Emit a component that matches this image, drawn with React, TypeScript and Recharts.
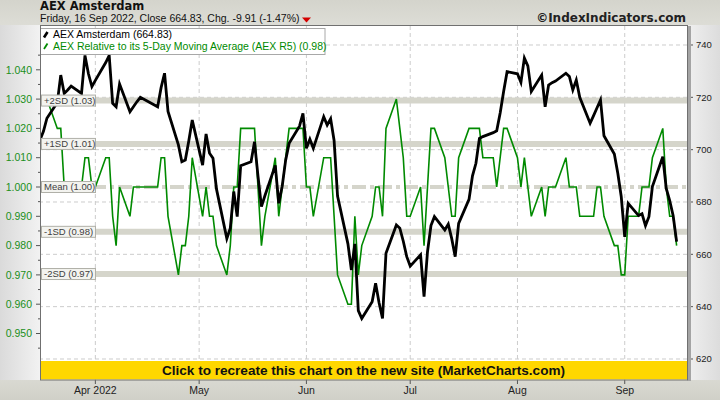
import React from 'react';
import { ComposedChart, Line, XAxis, YAxis, ReferenceLine } from 'recharts';

// ---- data ----
const dates: string[] = [
  '2022-03-16','2022-03-17','2022-03-18','2022-03-21','2022-03-22','2022-03-23','2022-03-24','2022-03-25','2022-03-28','2022-03-29','2022-03-30','2022-03-31',
  '2022-04-01','2022-04-04','2022-04-05','2022-04-06','2022-04-07','2022-04-08','2022-04-11','2022-04-12','2022-04-13','2022-04-14','2022-04-19','2022-04-20','2022-04-21','2022-04-22','2022-04-25','2022-04-26','2022-04-27','2022-04-28','2022-04-29',
  '2022-05-02','2022-05-03','2022-05-04','2022-05-05','2022-05-06','2022-05-09','2022-05-10','2022-05-11','2022-05-12','2022-05-13','2022-05-16','2022-05-17','2022-05-18','2022-05-19','2022-05-20','2022-05-23','2022-05-24','2022-05-25','2022-05-26','2022-05-27','2022-05-30','2022-05-31',
  '2022-06-01','2022-06-02','2022-06-03','2022-06-06','2022-06-07','2022-06-08','2022-06-09','2022-06-10','2022-06-13','2022-06-14','2022-06-15','2022-06-16','2022-06-17','2022-06-20','2022-06-21','2022-06-22','2022-06-23','2022-06-24','2022-06-27','2022-06-28','2022-06-29','2022-06-30',
  '2022-07-01','2022-07-04','2022-07-05','2022-07-06','2022-07-07','2022-07-08','2022-07-11','2022-07-12','2022-07-13','2022-07-14','2022-07-15','2022-07-18','2022-07-19','2022-07-20','2022-07-21','2022-07-22','2022-07-25','2022-07-26','2022-07-27','2022-07-28','2022-07-29',
  '2022-08-01','2022-08-02','2022-08-03','2022-08-04','2022-08-05','2022-08-08','2022-08-09','2022-08-10','2022-08-11','2022-08-12','2022-08-15','2022-08-16','2022-08-17','2022-08-18','2022-08-19','2022-08-22','2022-08-23','2022-08-24','2022-08-25','2022-08-26','2022-08-29','2022-08-30','2022-08-31',
  '2022-09-01','2022-09-02','2022-09-05','2022-09-06','2022-09-07','2022-09-08','2022-09-09','2022-09-12','2022-09-13','2022-09-14','2022-09-15','2022-09-16',
];

const aexClose: number[] = [
  703.7, 707.0, 712.0, 718.0, 728.5, 721.5, 722.8, 724.3, 721.5, 736.0, 729.0, 724.1,
  726.5, 733.3, 736.0, 717.7, 716.4, 725.1, 714.5, 716.4, 718.3, 720.0, 716.4, 723.7, 729.2, 714.6, 701.8, 695.4, 696.0, 703.3, 711.3,
  694.1, 706.0, 698.6, 696.7, 685.0, 666.0, 670.0, 684.0, 674.4, 693.9, 695.4, 703.0, 690.0, 678.2, 682.4, 694.0, 679.5, 686.0, 696.0, 702.4, 709.0, 713.9,
  700.5, 704.0, 700.5, 712.6, 709.4, 711.8, 703.5, 682.3, 664.0, 654.0, 664.0, 638.5, 635.5, 641.9, 648.9, 641.5, 635.5, 660.4, 671.2, 670.0, 665.0, 659.1,
  655.5, 659.8, 643.8, 661.0, 671.0, 674.4, 669.3, 671.5, 666.0, 659.1, 671.8, 681.0, 690.0, 694.8, 704.3, 705.0, 706.5, 707.2, 714.0, 722.2, 729.8,
  729.0, 725.7, 735.0, 732.0, 722.2, 728.5, 716.4, 724.7, 725.6, 726.2, 729.2, 728.0, 722.8, 726.6, 720.0, 710.1, 713.0, 716.0, 719.0, 705.3, 698.3, 691.0, 682.0,
  666.7, 679.5, 674.8, 675.5, 671.0, 674.4, 685.9, 697.3, 685.2, 680.5, 674.74, 664.83,
];

const aexR5: number[] = [
  1.03, 1.03, 1.03, 1.02, 1.02, 1.00, 1.00, 1.00, 1.00, 1.01, 1.01, 1.00,
  1.00, 1.01, 1.01, 0.99, 0.98, 1.00, 0.99, 1.00, 1.00, 1.00, 1.00, 1.01, 1.01, 0.99, 0.97, 0.98, 0.98, 0.99, 1.01,
  0.99, 1.00, 0.99, 0.99, 0.98, 0.97, 0.98, 1.00, 1.00, 1.02, 1.02, 1.02, 1.00, 0.98, 0.99, 1.01, 0.99, 1.00, 1.01, 1.02, 1.02, 1.02,
  1.00, 1.00, 0.99, 1.01, 1.01, 1.01, 0.99, 0.97, 0.96, 0.96, 0.99, 0.97, 0.98, 0.99, 1.00, 1.00, 0.99, 1.02, 1.03, 1.02, 1.01, 0.99,
  0.99, 1.00, 0.98, 1.00, 1.02, 1.02, 1.01, 1.00, 0.99, 0.99, 1.01, 1.02, 1.02, 1.02, 1.02, 1.01, 1.01, 1.00, 1.01, 1.02, 1.02,
  1.01, 1.00, 1.01, 1.00, 0.99, 1.00, 0.99, 1.00, 1.00, 1.00, 1.01, 1.00, 1.00, 1.00, 0.99, 0.99, 0.99, 1.00, 1.00, 0.99, 0.98, 0.98, 0.97,
  0.97, 0.99, 0.99, 1.00, 1.00, 1.00, 1.01, 1.02, 1.00, 0.99, 0.99, 0.98,
];

const monthTickDates: string[] = ['2022-04-01', '2022-05-01', '2022-06-01', '2022-07-01', '2022-08-01', '2022-09-01'];
const monthTickLabels: string[] = ['Apr 2022', 'May', 'Jun', 'Jul', 'Aug', 'Sep'];

const leftLabelTicks: number[] = [0.95, 0.96, 0.97, 0.98, 0.99, 1.0, 1.01, 1.02, 1.03, 1.04];
const leftMinorTicks: number[] = [0.945, 0.955, 0.965, 0.975, 0.985, 0.995, 1.005, 1.015, 1.025, 1.035, 1.045];
const rightLabelTicks: number[] = [620, 640, 660, 680, 700, 720, 740];
const rightMinorTicks: number[] = [630, 650, 670, 690, 710, 730];

const sdValues: number[] = [1.0295, 1.0147, 1.0, 0.9847, 0.9703];
const sdLabels: string[] = ['+2SD (1.03)', '+1SD (1.01)', 'Mean (1.00)', '-1SD (0.98)', '-2SD (0.97)'];

const titleText = 'AEX Amsterdam';
const subtitleText = 'Friday, 16 Sep 2022, Close 664.83, Chg. -9.91 (-1.47%)';
const copyrightText = '\u00A9IndexIndicators.com';
const legendAex = 'AEX Amsterdam (664.83)';
const legendR5 = 'AEX Relative to its 5-Day Moving Average (AEX R5) (0.98)';
const bannerText = 'Click to recreate this chart on the new site (MarketCharts.com)';

// ---- derived ----
const BASE = Date.UTC(2022, 3, 1);
const dayNum = (s: string) => {
  const [y, m, d] = s.split('-').map(Number);
  return (Date.UTC(y, m - 1, d) - BASE) / 86400000;
};
const data = dates.map((s, i) => ({ t: dayNum(s), aex: aexClose[i], r5: aexR5[i] }));
const monthTicks = monthTickDates.map(dayNum);
const leftTicks = [...leftLabelTicks, ...leftMinorTicks].sort((a, b) => a - b);
const rightTicks = [...rightLabelTicks, ...rightMinorTicks].sort((a, b) => a - b);

const SANS = "'Liberation Sans', Arial, sans-serif";
const VERD = "'DejaVu Sans', Verdana, sans-serif";
const GREEN = '#008a00';
const BAND = '#d5d5cb';

const isMajor = (v: number, list: number[]) => list.some((m) => Math.abs(m - v) < 1e-6);

const LeftTick = (props: any) => {
  const { x, y, payload } = props;
  const v = payload.value as number;
  const major = isMajor(v, leftLabelTicks);
  return (
    <g>
      <line x1={x - (major ? 4 : 2)} x2={x} y1={y} y2={y} stroke="#555" strokeWidth={1} />
      {major && (
        <text x={x - 8} y={y} dy="0.36em" textAnchor="end" fill="#1a8f1a" fontSize={10.5} fontFamily={SANS}>
          {v.toFixed(3)}
        </text>
      )}
    </g>
  );
};

const RightTick = (props: any) => {
  const { x, y, payload } = props;
  const v = payload.value as number;
  const major = isMajor(v, rightLabelTicks);
  return (
    <g>
      <line x1={x} x2={x + (major ? 6 : 3)} y1={y} y2={y} stroke="#555" strokeWidth={1} />
      {major && (
        <text x={x + 9} y={y} dy="0.36em" textAnchor="start" fill="#222" fontSize={9.5} fontFamily={SANS}>
          {String(v)}
        </text>
      )}
    </g>
  );
};

const XTick = (props: any) => {
  const { x, y, payload } = props;
  const idx = monthTicks.indexOf(payload.value);
  return (
    <g>
      <line x1={x} x2={x} y1={y} y2={y + 4} stroke="#555" strokeWidth={1} />
      <text x={x} y={y + 13.5} textAnchor="middle" fill="#222" fontSize={10.5} fontFamily={SANS}>
        {idx >= 0 ? monthTickLabels[idx] : ''}
      </text>
    </g>
  );
};

const makeBandLabel = (text: string) => (props: any) => {
  const vb = props.viewBox || {};
  const x = vb.x ?? 40;
  const y = vb.y ?? 0;
  return (
    <g>
      <rect x={x + 1.5} y={y - 5.5} width={54} height={11} fill="#f3f3ef" stroke="#b0b0a8" strokeWidth={1} />
      <text x={x + 4} y={y + 3.4} fontSize={9.5} fill="#404040" fontFamily={SANS}>
        {text}
      </text>
    </g>
  );
};

export default function App() {
  return (
    <div style={{ position: 'absolute', left: 0, top: 0, width: 720, height: 400, overflow: 'hidden' }}>
      <svg width={720} height={400} style={{ position: 'absolute', left: 0, top: 0 }}>
        <defs>
          <linearGradient id="frameGrad" x1="0" y1="0" x2="0" y2="1">
            <stop offset="0" stopColor="#d4d4cc" />
            <stop offset="0.1" stopColor="#e2e2dc" />
            <stop offset="0.9" stopColor="#e2e2dc" />
            <stop offset="1" stopColor="#d0d0c8" />
          </linearGradient>
          <linearGradient id="leftGrad" x1="0" y1="0" x2="1" y2="0">
            <stop offset="0" stopColor="#dadada" />
            <stop offset="1" stopColor="#f2f2f2" />
          </linearGradient>
          <linearGradient id="rightGrad" x1="0" y1="0" x2="1" y2="0">
            <stop offset="0" stopColor="#f0f0f0" />
            <stop offset="1" stopColor="#dcdcdc" />
          </linearGradient>
        </defs>
        <rect x={0} y={0} width={720} height={400} fill="url(#frameGrad)" />
        <rect x={0} y={25} width={40} height={355} fill="url(#leftGrad)" />
        <rect x={687} y={25} width={33} height={355} fill="url(#rightGrad)" />
        <rect x={40} y={25} width={647} height={355} fill="#ffffff" />
      </svg>

      <div style={{ position: 'absolute', left: 0, top: 0 }}>
        <ComposedChart width={720} height={400} data={data} margin={{ top: 25, right: 0, bottom: 0, left: 0 }}>
          <XAxis
            dataKey="t"
            type="number"
            domain={[-16, 171]}
            allowDataOverflow
            ticks={monthTicks}
            interval={0}
            tickSize={0}
            tickMargin={0}
            height={20}
            axisLine={false}
            tickLine={false}
            tick={<XTick />}
          />
          <YAxis
            yAxisId="left"
            orientation="left"
            type="number"
            width={40}
            domain={[0.93413, 1.05529]}
            allowDataOverflow
            ticks={leftTicks}
            interval={0}
            tickSize={0}
            tickMargin={0}
            axisLine={false}
            tickLine={false}
            tick={<LeftTick />}
          />
          <YAxis
            yAxisId="right"
            orientation="right"
            type="number"
            width={33}
            domain={[611.97, 747.64]}
            allowDataOverflow
            ticks={rightTicks}
            interval={0}
            tickSize={0}
            tickMargin={0}
            axisLine={false}
            tickLine={false}
            tick={<RightTick />}
          />

          {rightLabelTicks.map((v) => (
            <ReferenceLine key={'hg' + v} yAxisId="right" y={v} stroke="#cccccc" strokeDasharray="4 3" strokeWidth={1} />
          ))}
          {monthTicks.map((t) => (
            <ReferenceLine key={'vg' + t} yAxisId="right" x={t} stroke="#cccccc" strokeDasharray="4 3" strokeWidth={1} />
          ))}

          {sdValues.map((v, i) =>
            i === 2 ? (
              <ReferenceLine key={'sd' + i} yAxisId="left" y={v} stroke={BAND} strokeWidth={4} strokeDasharray="14 4 4 4" />
            ) : (
              <ReferenceLine key={'sd' + i} yAxisId="left" y={v} stroke={BAND} strokeWidth={6} />
            )
          )}

          <Line
            yAxisId="left"
            dataKey="r5"
            type="linear"
            stroke={GREEN}
            strokeWidth={1.6}
            dot={false}
            activeDot={false}
            isAnimationActive={false}
          />
          <Line
            yAxisId="right"
            dataKey="aex"
            type="linear"
            stroke="#000000"
            strokeWidth={2.8}
            dot={false}
            activeDot={false}
            isAnimationActive={false}
          />

          {sdValues.map((v, i) => (
            <ReferenceLine
              key={'sdl' + i}
              yAxisId="left"
              y={v}
              stroke="none"
              strokeWidth={0}
              label={makeBandLabel(sdLabels[i])}
            />
          ))}
        </ComposedChart>
      </div>

      <svg width={720} height={400} style={{ position: 'absolute', left: 0, top: 0, pointerEvents: 'none' }}>
        {/* header */}
        <text x={40} y={10} fontSize={11.5} fontWeight="bold" fontFamily={VERD} fill="#111">
          {titleText}
        </text>
        <text x={40} y={22} fontSize={10.5} fontFamily={SANS} fill="#111">
          {subtitleText}
        </text>
        <polygon points="302,17.5 311,17.5 306.5,22.5" fill="#d40000" />
        <text x={686} y={21.5} fontSize={12} fontWeight="bold" fontFamily={VERD} fill="#222" textAnchor="end">
          {copyrightText}
        </text>

        {/* legend */}
        <rect x={40.5} y={28.5} width={284.5} height={26} fill="#ffffff" stroke="#a8a8a8" strokeWidth={1} />
        <line x1={44} y1={37.5} x2={47.5} y2={32} stroke="#000" strokeWidth={2.6} />
        <line x1={44} y1={49} x2={47.5} y2={43.5} stroke={GREEN} strokeWidth={1.8} />
        <text x={53} y={38} fontSize={10.5} fontFamily={SANS} fill="#000">
          {legendAex}
        </text>
        <text x={53} y={49.5} fontSize={10.5} fontFamily={SANS} fill={GREEN}>
          {legendR5}
        </text>

        {/* banner */}
        <rect x={40} y={361} width={647} height={18.5} fill="#ffd700" />
        <text
          x={363.5}
          y={374.5}
          fontSize={12}
          fontWeight="bold"
          fontFamily={SANS}
          fill="#111"
          textAnchor="middle"
          textLength={403}
          lengthAdjust="spacingAndGlyphs"
        >
          {bannerText}
        </text>

        {/* plot frame */}
        <rect x={687.5} y={26} width={3.5} height={355} fill="#a4a4a4" />
        <rect x={40.5} y={25.5} width={647} height={354.5} fill="none" stroke="#707070" strokeWidth={1} />
      </svg>
    </div>
  );
}
